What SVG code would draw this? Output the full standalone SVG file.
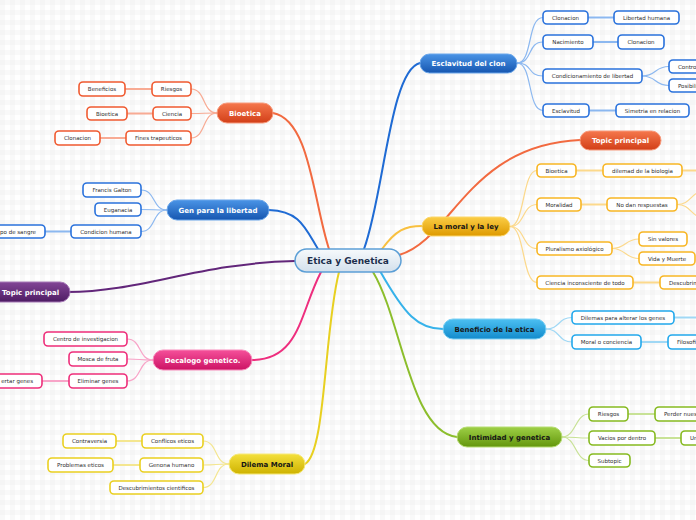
<svg xmlns="http://www.w3.org/2000/svg" width="696" height="520" viewBox="0 0 696 520">
<defs>
<pattern id="grid" width="10" height="10" patternUnits="userSpaceOnUse">
<rect width="10" height="10" fill="#ffffff"/>
<rect width="5" height="10" fill="#ececec" opacity="0.3"/>
<rect width="10" height="5" fill="#ececec" opacity="0.3"/>
</pattern>
<linearGradient id="gCenter" x1="0" y1="0" x2="0" y2="1"><stop offset="0" stop-color="#f7fafc"/><stop offset="1" stop-color="#d3e0ec"/></linearGradient>
<linearGradient id="gBlue" x1="0" y1="0" x2="0" y2="1"><stop offset="0" stop-color="#4a94e6"/><stop offset="1" stop-color="#1656b0"/></linearGradient>
<linearGradient id="gRed" x1="0" y1="0" x2="0" y2="1"><stop offset="0" stop-color="#f5774c"/><stop offset="1" stop-color="#d23f18"/></linearGradient>
<linearGradient id="gOrange" x1="0" y1="0" x2="0" y2="1"><stop offset="0" stop-color="#fbcd45"/><stop offset="1" stop-color="#de9a00"/></linearGradient>
<linearGradient id="gCyan" x1="0" y1="0" x2="0" y2="1"><stop offset="0" stop-color="#4cc0f2"/><stop offset="1" stop-color="#138bcc"/></linearGradient>
<linearGradient id="gGreen" x1="0" y1="0" x2="0" y2="1"><stop offset="0" stop-color="#9ed046"/><stop offset="1" stop-color="#63960c"/></linearGradient>
<linearGradient id="gPurple" x1="0" y1="0" x2="0" y2="1"><stop offset="0" stop-color="#824596"/><stop offset="1" stop-color="#4e1c64"/></linearGradient>
<linearGradient id="gPink" x1="0" y1="0" x2="0" y2="1"><stop offset="0" stop-color="#f5509a"/><stop offset="1" stop-color="#cc1264"/></linearGradient>
<linearGradient id="gYellow" x1="0" y1="0" x2="0" y2="1"><stop offset="0" stop-color="#f4e03c"/><stop offset="1" stop-color="#ceb200"/></linearGradient>
</defs>
<style>
text{font-family:"DejaVu Sans","Liberation Sans",sans-serif}
.sub rect{fill:#ffffff;stroke-width:1.6}
.sub text{font-size:5.5px;fill:#2e2e2e;text-anchor:middle}
.sub text.l{text-anchor:start}
.sub text.r{text-anchor:end}
.main rect{stroke-width:1}
.main text{font-size:7px;font-weight:bold;text-anchor:middle}
.w{fill:#ffffff}
.d{fill:#161616}
.mc path{fill:none;stroke-width:2;stroke-linecap:round}
.sc path{fill:none;stroke-width:1.2}
.sc path.g{stroke-width:2}
.cb{stroke:#1f6bd4}.cbs{stroke:#8cb8f0}
.cr{stroke:#f26a40}.crs{stroke:#f8ab94}
.co{stroke:#f8c040}.cos{stroke:#fcd98c}
.cc{stroke:#36b2ea}.ccs{stroke:#a0d8f5}
.cg{stroke:#8cbe2c}.cgs{stroke:#c8e296}
.cp{stroke:#62267a}
.ck{stroke:#ee2e7e}.cks{stroke:#f8a4c8}
.cy{stroke:#e8d020}.cys{stroke:#f4e690}
.bB rect{stroke:#2a72dc}
.bR rect{stroke:#f05a30}
.bO rect{stroke:#f8b624}
.bC rect{stroke:#22a8ec}
.bG rect{stroke:#86ba20}
.bK rect{stroke:#ee2e7a}
.bY rect{stroke:#ead020}
</style>
<rect width="696" height="520" fill="url(#grid)"/>

<g id="connectors">
<g class="mc">
<path class="cb" d="M364,249 C384,195 390,70 420,63"/>
<path class="cr" d="M329,249 C313,200 310,120 273,113"/>
<path class="cb" d="M318,249 C305,228 300,211 269,210"/>
<path class="cp" d="M295,261 C200,263 140,292 68,292"/>
<path class="ck" d="M321,272 C300,312 300,360 252,360"/>
<path class="cy" d="M339,272 C324,330 326,452 305,464"/>
<path class="cg" d="M373,272 C402,320 410,432 457,437"/>
<path class="cc" d="M380,271 C405,315 418,329 443,329"/>
<path class="co" d="M382,249 C396,230 405,226 422,226"/>
<path class="cr" d="M399,255 C452,240 468,145 580,140"/>
</g>
<g class="sc">
<path class="cbs" d="M517,63 C533,63 527,17.5 543,17.5"/>
<path class="cbs" d="M517,63 C533,63 527,42 543,42"/>
<path class="cbs" d="M517,63 C533,63 527,76 543,76"/>
<path class="cbs" d="M517,63 C533,63 527,110.5 543,110.5"/>
<path class="cbs g" d="M588,17.5 L614,17.5"/>
<path class="cbs g" d="M593,42 L618,42"/>
<path class="cbs" d="M642,76 C657,76 654,66.5 669,66.5"/>
<path class="cbs" d="M642,76 C657,76 654,85.5 669,85.5"/>
<path class="cbs g" d="M589,110.5 L616,110.5"/>

<path class="cos" d="M510,226.5 C525,226.5 522,170.5 537,170.5"/>
<path class="cos" d="M510,226.5 C525,226.5 522,204.5 537,204.5"/>
<path class="cos" d="M510,226.5 C525,226.5 522,248.5 537,248.5"/>
<path class="cos" d="M510,226.5 C525,226.5 522,282.5 537,282.5"/>
<path class="cos g" d="M576,170.5 L603,170.5"/>
<path class="cos g" d="M682,170.5 L696,170.5"/>
<path class="cos g" d="M581,204.5 L607,204.5"/>
<path class="cos" d="M677,204.5 C688,204.5 690,197 697,193"/>
<path class="cos" d="M677,204.5 C688,204.5 690,212 697,216"/>
<path class="cos" d="M612,248.5 C626,248.5 625,239 639,239"/>
<path class="cos" d="M612,248.5 C626,248.5 625,258.5 639,258.5"/>
<path class="cos g" d="M633,282.5 L660,282.5"/>

<path class="ccs" d="M546,329 C560,329 558,317.5 572,317.5"/>
<path class="ccs" d="M546,329 C560,329 558,342 572,342"/>
<path class="ccs g" d="M674,317.5 L696,317.5"/>
<path class="ccs g" d="M641,342 L668,342"/>

<path class="cgs" d="M562,437 C576,437 575,414 589,414"/>
<path class="cgs" d="M562,437 C576,437 575,438 589,438"/>
<path class="cgs" d="M562,437 C576,437 575,460.5 589,460.5"/>
<path class="cgs g" d="M628,414 L655,414"/>
<path class="cgs g" d="M655,438 L681,438"/>

<path class="crs" d="M217,113 C202,113 206,89 191,89"/>
<path class="crs" d="M217,113 C202,113 206,113.5 191,113.5"/>
<path class="crs" d="M217,113 C202,113 206,138 191,138"/>
<path class="crs g" d="M152,89 L125,89"/>
<path class="crs g" d="M153,113.5 L127,113.5"/>
<path class="crs g" d="M126,138 L100,138"/>

<path class="cbs" d="M167,210 C152,210 156,190 141,190"/>
<path class="cbs" d="M167,210 C152,210 156,209.5 141,209.5"/>
<path class="cbs" d="M167,210 C152,210 156,231.5 141,231.5"/>
<path class="cbs g" d="M71,231.5 L45,231.5"/>

<path class="cks" d="M153,360 C138,360 142,339 127,339"/>
<path class="cks" d="M153,360 C138,360 142,359 127,359"/>
<path class="cks" d="M153,360 C138,360 142,381 127,381"/>
<path class="cks g" d="M69,381 L42,381"/>

<path class="cys" d="M229,464 C214,464 218,441 203,441"/>
<path class="cys" d="M229,464 C214,464 218,465 203,465"/>
<path class="cys" d="M229,464 C214,464 218,487.5 203,487.5"/>
<path class="cys g" d="M142,441 L116,441"/>
<path class="cys g" d="M140,465 L113,465"/>
</g>
</g>

<g id="center">
<rect x="295" y="249" width="106" height="23" rx="11.5" fill="url(#gCenter)" stroke="#5c9fd6" stroke-width="1.5"/>
<text x="348" y="264" font-size="9" font-weight="bold" fill="#1c2f4d" text-anchor="middle">Etica y Genetica</text>
</g>

<g id="esclavitud-del-clon" class="main"><rect x="420" y="54" width="97" height="19" rx="9.5" fill="url(#gBlue)" stroke="#6aa6ea"/><text class="w" x="468.5" y="66">Esclavitud del clon</text></g>
<g id="esc-clonacion" class="sub bB"><rect x="543" y="11" width="45" height="13" rx="4"/><text x="565.5" y="19.5">Clonacion</text></g>
<g id="esc-libertad-humana" class="sub bB"><rect x="614" y="11" width="65" height="13" rx="4"/><text x="646.5" y="19.5">Libertad humana</text></g>
<g id="esc-nacimiento" class="sub bB"><rect x="543" y="35" width="50" height="14" rx="4"/><text x="568" y="44">Nacimiento</text></g>
<g id="esc-clonacion-2" class="sub bB"><rect x="618" y="35" width="46" height="14" rx="4"/><text x="641" y="44">Clonacion</text></g>
<g id="esc-condicionamiento" class="sub bB"><rect x="543" y="69" width="99" height="14" rx="4"/><text x="592.5" y="78">Condicionamiento de libertad</text></g>
<g id="esc-control" class="sub bB"><rect x="669" y="60" width="40" height="13" rx="4"/><text class="l" x="678" y="68.5">Contro</text></g>
<g id="esc-posibili" class="sub bB"><rect x="669" y="79" width="40" height="13" rx="4"/><text class="l" x="678" y="87.5">Posibili</text></g>
<g id="esc-esclavitud" class="sub bB"><rect x="543" y="104" width="46" height="13" rx="4"/><text x="566" y="112.5">Esclavitud</text></g>
<g id="esc-simetria" class="sub bB"><rect x="616" y="104" width="73" height="13" rx="4"/><text x="652.5" y="112.5">Simetria en relacion</text></g>

<g id="topic-principal-red" class="main"><rect x="580" y="131" width="81" height="19" rx="9.5" fill="url(#gRed)" stroke="#f79a7c"/><text class="w" x="620.5" y="143">Topic principal</text></g>

<g id="la-moral-y-la-ley" class="main"><rect x="422" y="217" width="88" height="19" rx="9.5" fill="url(#gOrange)" stroke="#fbd66a"/><text class="d" x="466" y="229">La moral y la ley</text></g>
<g id="mor-bioetica" class="sub bO"><rect x="537" y="164" width="39" height="13" rx="4"/><text x="556.5" y="172.5">Bioetica</text></g>
<g id="mor-dilemad" class="sub bO"><rect x="603" y="164" width="79" height="13" rx="4"/><text x="642.5" y="172.5">dilemad de la biologia</text></g>
<g id="mor-moralidad" class="sub bO"><rect x="537" y="198" width="44" height="13" rx="4"/><text x="559" y="206.5">Moralidad</text></g>
<g id="mor-no-dan" class="sub bO"><rect x="607" y="198" width="70" height="13" rx="4"/><text x="642" y="206.5">No dan respuestas</text></g>
<g id="mor-pluralismo" class="sub bO"><rect x="537" y="242" width="75" height="13" rx="4"/><text x="574.5" y="250.5">Pluralismo axiológico</text></g>
<g id="mor-sin-valores" class="sub bO"><rect x="639" y="232" width="48" height="14" rx="4"/><text x="663" y="241">Sin valores</text></g>
<g id="mor-vida-muerte" class="sub bO"><rect x="639" y="252" width="56" height="13" rx="4"/><text x="667" y="260.5">Vida y Muerte</text></g>
<g id="mor-ciencia" class="sub bO"><rect x="537" y="276" width="96" height="13" rx="4"/><text x="585" y="284.5">Ciencia inconsciente de todo</text></g>
<g id="mor-descubrim" class="sub bO"><rect x="660" y="276" width="50" height="13" rx="4"/><text class="l" x="669" y="284.5">Descubrim</text></g>

<g id="beneficio-de-la-etica" class="main"><rect x="443" y="319" width="103" height="20" rx="10" fill="url(#gCyan)" stroke="#7cd0f4"/><text class="d" x="494.5" y="331.5">Beneficio de la etica</text></g>
<g id="ben-dilemas" class="sub bC"><rect x="572" y="311" width="102" height="13" rx="4"/><text x="623" y="319.5">Dilemas para alterar los genes</text></g>
<g id="ben-moral" class="sub bC"><rect x="572" y="335" width="69" height="14" rx="4"/><text x="606.5" y="344">Moral o conciencia</text></g>
<g id="ben-filosofi" class="sub bC"><rect x="668" y="335" width="40" height="14" rx="4"/><text class="l" x="677" y="344">Filosofi</text></g>

<g id="intimidad-y-genetica" class="main"><rect x="457" y="427" width="105" height="20" rx="10" fill="url(#gGreen)" stroke="#b6dc72"/><text class="d" x="509.5" y="439.5">Intimidad y genetica</text></g>
<g id="int-riesgos" class="sub bG"><rect x="589" y="407" width="39" height="14" rx="4"/><text x="608.5" y="416">Riesgos</text></g>
<g id="int-perder" class="sub bG"><rect x="655" y="407" width="50" height="14" rx="4"/><text class="l" x="664" y="416">Perder nues</text></g>
<g id="int-vacios" class="sub bG"><rect x="589" y="431" width="66" height="14" rx="4"/><text x="622" y="440">Vacios por dentro</text></g>
<g id="int-un" class="sub bG"><rect x="681" y="431" width="30" height="14" rx="4"/><text class="l" x="690" y="440">Un</text></g>
<g id="int-subtopic" class="sub bG"><rect x="589" y="454" width="41" height="13" rx="4"/><text x="609.5" y="462.5">Subtopic</text></g>

<g id="bioetica" class="main"><rect x="217" y="103" width="56" height="20" rx="10" fill="url(#gRed)" stroke="#f79a7c"/><text class="w" x="245" y="115.5">Bioetica</text></g>
<g id="bio-riesgos" class="sub bR"><rect x="152" y="82" width="39" height="14" rx="4"/><text x="171.5" y="91">Riesgos</text></g>
<g id="bio-beneficios" class="sub bR"><rect x="79" y="82" width="46" height="14" rx="4"/><text x="102" y="91">Beneficios</text></g>
<g id="bio-ciencia" class="sub bR"><rect x="153" y="107" width="38" height="13" rx="4"/><text x="172" y="115.5">Ciencia</text></g>
<g id="bio-bioetica" class="sub bR"><rect x="87" y="107" width="40" height="13" rx="4"/><text x="107" y="115.5">Bioetica</text></g>
<g id="bio-fines" class="sub bR"><rect x="126" y="131" width="65" height="14" rx="4"/><text x="158.5" y="140">Fines trapeuticos</text></g>
<g id="bio-clonacion" class="sub bR"><rect x="55" y="131" width="45" height="14" rx="4"/><text x="77.5" y="140">Clonacion</text></g>

<g id="gen-para-la-libertad" class="main"><rect x="167" y="200" width="102" height="20" rx="10" fill="url(#gBlue)" stroke="#6aa6ea"/><text class="w" x="218" y="212.5">Gen para la libertad</text></g>
<g id="gen-galton" class="sub bB"><rect x="83" y="183" width="58" height="14" rx="4"/><text x="112" y="192">Francis Galton</text></g>
<g id="gen-euganacia" class="sub bB"><rect x="95" y="203" width="46" height="13" rx="4"/><text x="118" y="211.5">Euganacia</text></g>
<g id="gen-condicion" class="sub bB"><rect x="71" y="225" width="70" height="13" rx="4"/><text x="106" y="233.5">Condicion humana</text></g>
<g id="gen-sangre" class="sub bB"><rect x="-20" y="225" width="65" height="13" rx="4"/><text class="r" x="36" y="233.5">po de sangre</text></g>

<g id="topic-principal-purple" class="main"><rect x="-30" y="282" width="100" height="20" rx="10" fill="url(#gPurple)" stroke="#a678b6"/><text class="w" x="2" y="294.5" style="text-anchor:start">Topic principal</text></g>

<g id="decalogo-genetico" class="main"><rect x="153" y="350" width="99" height="20" rx="10" fill="url(#gPink)" stroke="#f88cbc"/><text class="w" x="202.5" y="362.5">Decalogo genetico.</text></g>
<g id="dec-centro" class="sub bK"><rect x="44" y="332" width="83" height="14" rx="4"/><text x="85.5" y="341">Centro de investigacion</text></g>
<g id="dec-mosca" class="sub bK"><rect x="69" y="352" width="58" height="14" rx="4"/><text x="98" y="361">Mosca de fruta</text></g>
<g id="dec-eliminar" class="sub bK"><rect x="69" y="374" width="58" height="14" rx="4"/><text x="98" y="383">Eliminar genes</text></g>
<g id="dec-insertar" class="sub bK"><rect x="-20" y="374" width="62" height="14" rx="4"/><text class="r" x="33" y="383">ertar genes</text></g>

<g id="dilema-moral" class="main"><rect x="229" y="454" width="76" height="20" rx="10" fill="url(#gYellow)" stroke="#f6e878"/><text class="d" x="267" y="466.5">Dilema Moral</text></g>
<g id="dil-conflicos" class="sub bY"><rect x="142" y="434" width="61" height="14" rx="4"/><text x="172.5" y="443">Conflicos eticos</text></g>
<g id="dil-contraversia" class="sub bY"><rect x="63" y="434" width="53" height="14" rx="4"/><text x="89.5" y="443">Contraversia</text></g>
<g id="dil-genona" class="sub bY"><rect x="140" y="458" width="63" height="14" rx="4"/><text x="171.5" y="467">Genona humano</text></g>
<g id="dil-problemas" class="sub bY"><rect x="48" y="458" width="65" height="14" rx="4"/><text x="80.5" y="467">Problemas eticos</text></g>
<g id="dil-descubrimientos" class="sub bY"><rect x="110" y="481" width="93" height="13" rx="4"/><text x="156.5" y="489.5">Descubrimientos cientificos</text></g>
</svg>
